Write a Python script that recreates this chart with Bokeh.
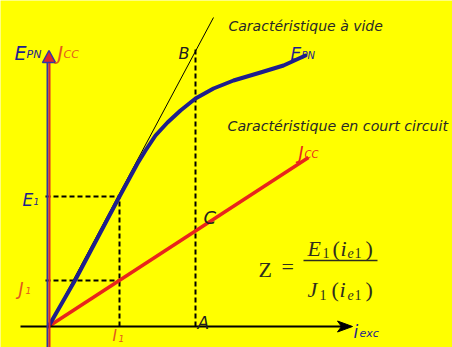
from bokeh.plotting import figure
from bokeh.models import Range1d
from bokeh.core.properties import value
from bokeh.embed import file_html
from bokeh.resources import INLINE

# ---- data (field current i_exc vs EMF E_PN and short-circuit current J_CC) ----
i_exc = [0, 27, 71, 89, 97, 107, 119, 132, 147, 165, 185, 212, 235, 257]
E_pn = [0, 47, 130, 163, 176, 191, 204, 216, 228, 238, 246, 254, 261, 271]
i_cc = [0, 260]
J_cc = [0, 169]
i_lin = [0, 165]
E_lin = [0, 309]
i1 = 71
E1 = 130
J1 = 46
iA = 147
EB = 278
JC = 95

YEL = "#FFFF00"
NAVY = "#1E1E8C"
RED = "#E8251C"
ORANGE = "#E2581E"
HAND = "DejaVu Sans"
SERIF = "Liberation Serif"
FCOL = "#2E2E1E"

p = figure(width=452, height=347, x_range=Range1d(-48, 404), y_range=Range1d(-21, 326),
           output_backend="svg", toolbar_location=None, min_border=0)
p.axis.visible = False
p.grid.visible = False
p.outline_line_color = None
p.background_fill_color = YEL
p.border_fill_color = YEL


def lab(x, y, t, size, color, font=HAND, style="italic", align="left", base="alphabetic"):
    p.text(x=[x], y=[y], text=[t], text_font=value(font), text_font_size=value(f"{size}px"),
           text_font_style=style, text_color=color, text_align=align, text_baseline=base)


# dashed construction lines
p.line([-3, i1], [E1, E1], line_color="black", line_width=2, line_dash="5 3")
p.line([i1, i1], [0, E1], line_color="black", line_width=2, line_dash="5 3")
p.line([-3, i1], [J1, J1], line_color="black", line_width=2, line_dash="5 3")
p.line([iA, iA], [0, EB], line_color="black", line_width=2, line_dash="5 3")

# linear (tangent) characteristic
p.line(i_lin, E_lin, line_color="black", line_width=1)

# short-circuit characteristic
p.line(i_cc, J_cc, line_color=RED, line_width=3.5)
# no-load characteristic
p.line(i_exc, E_pn, line_color=NAVY, line_width=4, line_join="round", line_cap="round")

# horizontal axis
p.line([-28, 294], [0, 0], line_color="black", line_width=2)
p.patch([304, 289, 293, 289], [0, 5.5, 0, -5.5], fill_color="black", line_color="black")

# vertical axis (blue + red)
p.line([-1, -1], [-21, 266], line_color="#3434A8", line_width=2)
p.line([1, 1], [-21, 266], line_color="#E02828", line_width=2)
p.patch([-6, 0.5, 7], [264, 276, 264], fill_color="#E02828", line_color="#3434A8", line_width=1.5)

# axis labels
lab(-34, 274, "E", 19, NAVY)
lab(-22, 272, "PN", 11, NAVY)
lab(9, 274, "J", 19, ORANGE)
lab(15, 272, "CC", 11, ORANGE)
lab(305, -5, "i", 17, NAVY)
lab(311, -7, "exc", 11, NAVY)

# curve labels
lab(180, 301, "Caractéristique à vide", 14, "#282828")
lab(179, 201, "Caractéristique en court circuit", 14.2, "#282828")
lab(242, 273, "E", 17, NAVY)
lab(253, 271, "PN", 10, NAVY)
lab(250, 174, "J", 17, RED)
lab(256, 172, "CC", 10, RED)

# point labels
lab(130, 273, "B", 16, "#202020")
lab(iA + 8, JC + 14, "C", 18, "#202020")
lab(iA + 2, 4, "A", 17, "#202020")
lab(-26, E1 - 3, "E", 17, NAVY)
lab(-15, E1 - 5, "1", 9, NAVY)
lab(-30, J1 - 8, "J", 17, ORANGE)
lab(-23, J1 - 10, "1", 9, ORANGE)
lab(i1 - 7, -9, "I", 15, ORANGE)
lab(i1 - 1, -12, "1", 9, ORANGE)

# formula Z = E1(ie1)/J1(ie1)
lab(210, 57, "Z", 22, FCOL, SERIF, "normal")
lab(233, 60, "=", 22, FCOL, SERIF, "normal")
p.line([255, 329], [66, 66], line_color=FCOL, line_width=1.3)
# numerator
lab(259, 78, "E", 22, FCOL, SERIF, "italic")
lab(274, 74, "1", 14, FCOL, SERIF, "normal")
lab(284, 78, "(", 22, FCOL, SERIF, "normal")
lab(292, 78, "i", 22, FCOL, SERIF, "italic")
lab(299, 74, "e", 14, FCOL, SERIF, "italic")
lab(306, 74, "1", 14, FCOL, SERIF, "normal")
lab(317, 78, ")", 22, FCOL, SERIF, "normal")
# denominator
lab(259, 37, "J", 22, FCOL, SERIF, "italic")
lab(271, 32, "1", 14, FCOL, SERIF, "normal")
lab(283, 37, "(", 22, FCOL, SERIF, "normal")
lab(291, 37, "i", 22, FCOL, SERIF, "italic")
lab(299, 32, "e", 14, FCOL, SERIF, "italic")
lab(306, 32, "1", 14, FCOL, SERIF, "normal")
lab(317, 37, ")", 22, FCOL, SERIF, "normal")

open("out.html", "w").write(file_html(p, INLINE))
